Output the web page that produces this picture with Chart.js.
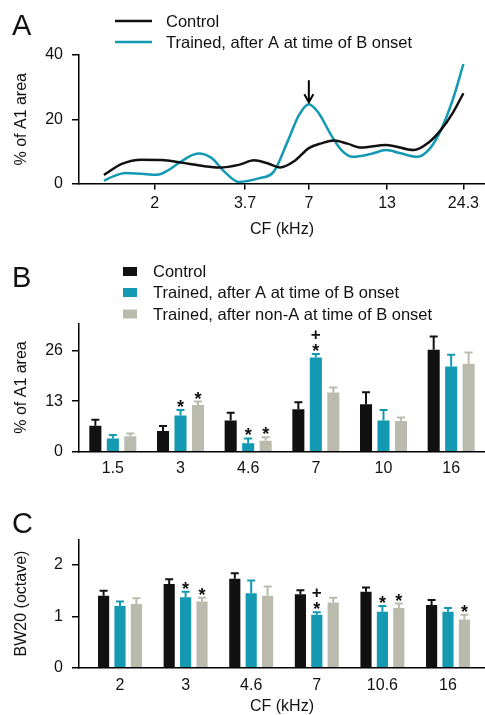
<!DOCTYPE html>
<html><head><meta charset="utf-8">
<script src="https://cdn.jsdelivr.net/npm/chart.js@4.4.0/dist/chart.umd.min.js"></script>
<style>
html,body{margin:0;padding:0;background:#fff;}
body{width:485px;height:715px;position:relative;overflow:hidden;}
canvas{position:absolute;left:0;}
</style></head><body>
<canvas id="cA" width="485" height="240" style="top:0px"></canvas>
<canvas id="cB" width="485" height="240" style="top:240px"></canvas>
<canvas id="cC" width="485" height="235" style="top:480px"></canvas>
<script>
// ---------- Data ----------
const seriesNames = ['Control', 'Trained, after A at time of B onset', 'Trained, after non-A at time of B onset'];

// Panel A: CF position index (0..40 along the CF axis) and % of A1 area
const aControlX = [0, 2.0, 4.2, 6.4, 8.6, 10.9, 12.9, 15.0, 16.7, 18.2, 19.6, 21.2, 22.8, 24.2, 25.6, 27.1, 28.6, 31.4, 34.5, 36.1, 37.5, 38.8, 40];
const aControlY = [2.7, 6.1, 7.4, 7.3, 6.5, 5.5, 5.0, 5.8, 7.2, 6.3, 5.0, 7.0, 11.0, 12.5, 13.4, 12.4, 11.2, 12.0, 10.4, 12.7, 16.7, 21.9, 28.1];
const aTrainedX = [0, 1.1, 2.4, 4.2, 5.9, 7.2, 8.3, 10.5, 12.0, 13.4, 15.0, 17.2, 18.9, 20.5, 21.7, 22.8, 23.9, 25.3, 26.4, 27.7, 29.7, 31.4, 33.0, 34.9, 36.3, 37.5, 38.8, 40];
const aTrainedY = [0.9, 2.3, 3.3, 3.0, 2.7, 4.2, 6.3, 9.3, 7.9, 3.7, 0.5, 1.6, 3.7, 13.5, 21.3, 24.7, 21.9, 15.0, 10.5, 8.3, 9.2, 10.4, 9.4, 8.3, 11.0, 16.7, 26.0, 37.2];
const aTickPos = [5.65, 15.7, 22.8, 31.5, 40];
const aTickLabels = ['2', '3.7', '7', '13', '24.3'];
const aArrowLabel = '7';
const aYTicks = [0, 20, 40];

// Panel B: % of A1 area by CF
const bCats = ['1.5', '3', '4.6', '7', '10', '16'];
const bControl = [6.7, 5.3, 8.0, 10.9, 12.2, 26.2];
const bControlErr = [1.5, 1.3, 2.0, 1.8, 3.1, 3.4];
const bTrainedA = [3.4, 9.3, 2.2, 24.2, 8.0, 21.9];
const bTrainedAErr = [0.9, 1.4, 1.2, 0.9, 2.7, 3.0];
const bTrainedNonA = [4.0, 12.0, 2.8, 15.2, 7.9, 22.6];
const bTrainedNonAErr = [0.7, 0.9, 0.9, 1.3, 0.9, 2.9];
const bMarksA = ['', '*', '*', '+*', '', ''];
const bMarksNonA = ['', '*', '*', '', '', ''];
const bYTicks = [0, 13, 26];

// Panel C: BW20 (octave) by CF
const cCats = ['2', '3', '4.6', '7', '10.6', '16'];
const cControl = [1.40, 1.63, 1.73, 1.43, 1.48, 1.22];
const cControlErr = [0.10, 0.09, 0.11, 0.08, 0.08, 0.10];
const cTrainedA = [1.20, 1.37, 1.45, 1.03, 1.09, 1.09];
const cTrainedAErr = [0.09, 0.11, 0.25, 0.05, 0.11, 0.07];
const cTrainedNonA = [1.24, 1.29, 1.40, 1.27, 1.16, 0.94];
const cTrainedNonAErr = [0.11, 0.07, 0.18, 0.09, 0.09, 0.09];
const cMarksA = ['', '*', '', '+*', '*', ''];
const cMarksNonA = ['', '*', '', '', '*', '*'];
const cYTicks = [0, 1, 2];

// ---------- Styles ----------
const FONT = "'Liberation Sans', Arial, Helvetica, sans-serif";
const BLACK = '#111111';
const CYAN = '#1399b2';
const GRAY = '#bbbbad';
const TXT = '#111111';
const f16 = {family: FONT, size: 16};

const letterPlugin = (letter, y) => ({
  id: 'letter' + letter,
  afterDraw(chart) {
    const c = chart.ctx; c.save();
    c.font = `29px ${FONT}`; c.fillStyle = TXT; c.textBaseline = 'alphabetic';
    c.fillText(letter, 12, y);
    c.restore();
  }
});

const lineLegend = {
  id: 'lineLegend',
  afterDraw(chart) {
    const c = chart.ctx; c.save();
    c.font = `16.5px ${FONT}`; c.textBaseline = 'middle';
    chart.data.datasets.forEach((ds, i) => {
      const y = 21 + i * 21;
      c.strokeStyle = ds.borderColor; c.lineWidth = 2.5;
      c.beginPath(); c.moveTo(115, y); c.lineTo(152, y); c.stroke();
      c.fillStyle = TXT; c.fillText(ds.label, 166, y + 1);
    });
    c.restore();
  }
};

const arrowPlugin = {
  id: 'arrow',
  afterDraw(chart) {
    const meta = chart.getDatasetMeta(1);
    const data = chart.data.datasets[1].data;
    const target = aTickPos[aTickLabels.indexOf(aArrowLabel)];
    let k = 0;
    data.forEach((d, i) => { if (Math.abs(d.x - target) < Math.abs(data[k].x - target)) k = i; });
    const el = meta.data[k];
    const c = chart.ctx; c.save();
    c.strokeStyle = '#000'; c.lineWidth = 2;
    const tip = el.y - 2, top = el.y - 24;
    c.beginPath(); c.moveTo(el.x, top); c.lineTo(el.x, tip);
    c.moveTo(el.x - 4.5, tip - 8); c.lineTo(el.x, tip); c.lineTo(el.x + 4.5, tip - 8);
    c.stroke(); c.restore();
  }
};

const boxLegend = (ys) => ({
  id: 'boxLegend',
  afterDraw(chart) {
    const c = chart.ctx; c.save();
    c.font = `16.5px ${FONT}`; c.textBaseline = 'middle';
    chart.data.datasets.forEach((ds, i) => {
      const y = ys[i];
      c.fillStyle = ds.backgroundColor; c.fillRect(123, y - 4.5, 14, 9);
      c.fillStyle = TXT; c.fillText(ds.label, 153, y + 1);
    });
    c.restore();
  }
});

const errPlugin = {
  id: 'errbars',
  afterDatasetsDraw(chart) {
    const c = chart.ctx, ys = chart.scales.y;
    chart.data.datasets.forEach((ds, i) => {
      const meta = chart.getDatasetMeta(i);
      meta.data.forEach((el, j) => {
        const raw = ds.data[j];
        const v = (typeof raw === 'object') ? raw.y : raw;
        const top = ys.getPixelForValue(v + ds.errors[j]);
        c.save();
        c.strokeStyle = ds.backgroundColor; c.lineWidth = 2;
        c.beginPath(); c.moveTo(el.x, el.y); c.lineTo(el.x, top);
        c.moveTo(el.x - 4, top); c.lineTo(el.x + 4, top); c.stroke();
        const m = ds.marks ? ds.marks[j] : '';
        if (m) {
          c.fillStyle = TXT; c.textAlign = 'center'; c.textBaseline = 'alphabetic';
          if (m.includes('*')) { c.font = `bold 18px ${FONT}`; c.fillText('*', el.x, top + 3); }
          if (m.includes('+')) { c.font = `bold 17px ${FONT}`; c.fillText('+', el.x, top - 14); }
        }
        c.restore();
      });
    });
  }
};

const yAxis = (max, ticks, title, width) => ({
  min: 0, max: max,
  afterBuildTicks(s) { s.ticks = ticks.map(v => ({value: v})); },
  afterFit(s) { s.width = width; },
  grid: {drawOnChartArea: false, drawTicks: true, tickLength: 7, color: '#000', lineWidth: 1.5},
  border: {display: true, color: '#000', width: 1.5},
  ticks: {font: f16, color: TXT, padding: 9},
  title: {display: true, text: title, font: {family: FONT, size: 16, lineHeight: 1.2}, color: TXT, padding: {top: 12, bottom: 12}}
});

const common = {
  responsive: false, animation: false, devicePixelRatio: 1,
  plugins: {legend: {display: false}, tooltip: {enabled: false}}
};

// ---------- Panel A ----------
new Chart(document.getElementById('cA'), {
  type: 'line',
  data: {datasets: [
    {label: seriesNames[0], data: aControlX.map((x, i) => ({x: x, y: aControlY[i]})), borderColor: BLACK, borderWidth: 2.5, pointRadius: 0, cubicInterpolationMode: 'monotone', fill: false},
    {label: seriesNames[1], data: aTrainedX.map((x, i) => ({x: x, y: aTrainedY[i]})), borderColor: CYAN, borderWidth: 2.5, pointRadius: 0, cubicInterpolationMode: 'monotone', fill: false}
  ]},
  options: Object.assign({}, common, {
    layout: {padding: {top: 55, left: 0, right: 0, bottom: 0}},
    scales: {
      x: {type: 'linear', min: -2.77, max: 42.4,
        afterBuildTicks(s) { s.ticks = aTickPos.map(v => ({value: v})); },
        afterFit(s) { s.height = 56.5; },
        grid: {drawOnChartArea: false, drawTicks: true, tickLength: 6, color: '#000', lineWidth: 1.5},
        border: {display: true, color: '#000', width: 1.5},
        ticks: {font: f16, color: TXT, padding: 4, autoSkip: false, maxRotation: 0, callback: (v, i) => aTickLabels[i]},
        title: {display: true, text: 'CF (kHz)', font: {family: FONT, size: 16, lineHeight: 1}, color: TXT, padding: {top: 2, bottom: 2}}
      },
      y: yAxis(40, aYTicks, '% of A1 area', 79)
    }
  }),
  plugins: [lineLegend, arrowPlugin, letterPlugin('A', 35)]
});

// ---------- Panel B ----------
new Chart(document.getElementById('cB'), {
  type: 'bar',
  data: {labels: bCats, datasets: [
    {label: seriesNames[0], data: bControl, errors: bControlErr, backgroundColor: BLACK},
    {label: seriesNames[1], data: bTrainedA, errors: bTrainedAErr, marks: bMarksA, backgroundColor: CYAN},
    {label: seriesNames[2], data: bTrainedNonA, errors: bTrainedNonAErr, marks: bMarksNonA, backgroundColor: GRAY}
  ]},
  options: Object.assign({}, common, {
    layout: {padding: {top: 83.3, left: 0, right: 0, bottom: 0}},
    datasets: {bar: {categoryPercentage: 0.775, barPercentage: 0.69}},
    scales: {
      x: {
        afterFit(s) { s.height = 28.3; },
        grid: {display: false},
        border: {display: true, color: '#000', width: 1.5},
        ticks: {font: f16, color: TXT, padding: -1, autoSkip: false, maxRotation: 0}
      },
      y: yAxis(33, bYTicks, '% of A1 area', 79)
    }
  }),
  plugins: [errPlugin, boxLegend([31.5, 52.5, 74]), letterPlugin('B', 47)]
});

// ---------- Panel C ----------
new Chart(document.getElementById('cC'), {
  type: 'bar',
  data: {datasets: [
    {label: seriesNames[0], data: cControl.map((v, i) => ({x: i + 1, y: v})), errors: cControlErr, backgroundColor: BLACK},
    {label: seriesNames[1], data: cTrainedA.map((v, i) => ({x: i + 1, y: v})), errors: cTrainedAErr, marks: cMarksA, backgroundColor: CYAN},
    {label: seriesNames[2], data: cTrainedNonA.map((v, i) => ({x: i + 1, y: v})), errors: cTrainedNonAErr, marks: cMarksNonA, backgroundColor: GRAY}
  ]},
  options: Object.assign({}, common, {
    layout: {padding: {top: 59.3, left: 0, right: 0, bottom: 0}},
    datasets: {bar: {categoryPercentage: 0.75, barPercentage: 0.68}},
    scales: {
      x: {type: 'linear', min: 0.375, max: 6.564, offset: false,
        afterBuildTicks(s) { s.ticks = cCats.map((_, i) => ({value: i + 1})); },
        afterFit(s) { s.height = 47.3; },
        grid: {display: false},
        border: {display: true, color: '#000', width: 1.5},
        ticks: {font: f16, color: TXT, padding: 0, autoSkip: false, maxRotation: 0, callback: (v, i) => cCats[i]},
        title: {display: true, text: 'CF (kHz)', font: {family: FONT, size: 16, lineHeight: 1}, color: TXT, padding: {top: 0, bottom: 0}}
      },
      y: yAxis(2.5, cYTicks, 'BW20 (octave)', 79)
    }
  }),
  plugins: [errPlugin, letterPlugin('C', 53)]
});
</script>
</body></html>
